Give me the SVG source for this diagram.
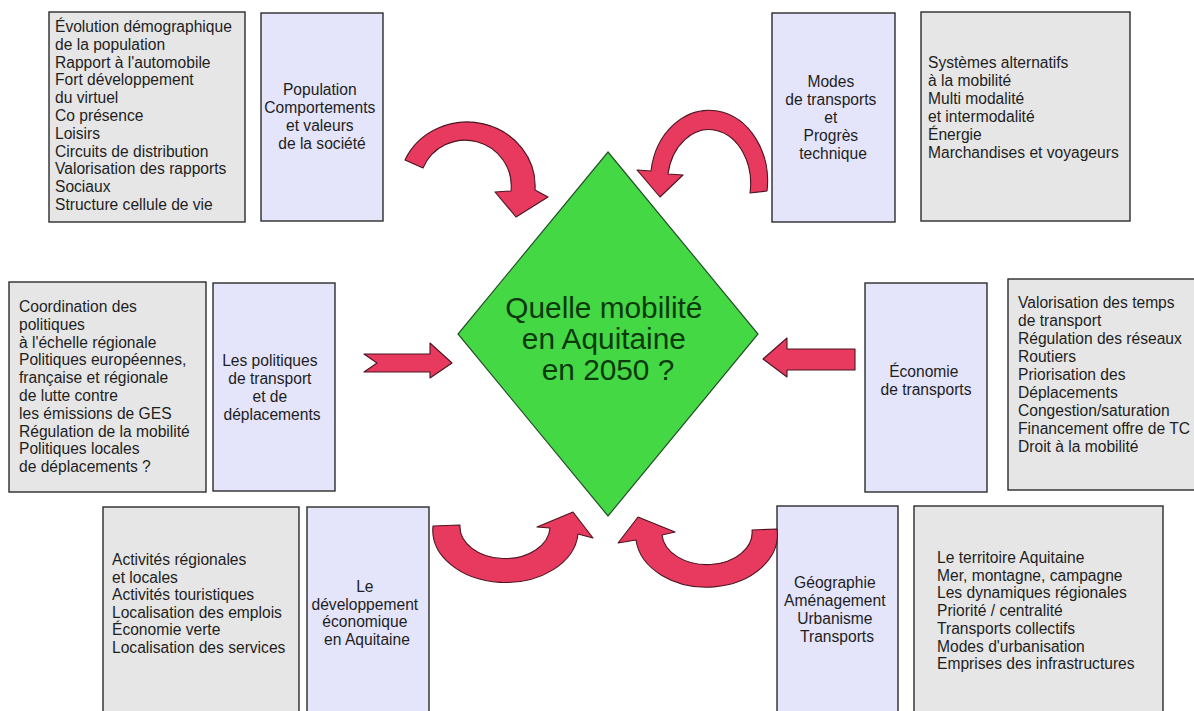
<svg xmlns="http://www.w3.org/2000/svg" width="1194" height="711" viewBox="0 0 1194 711">
  <style>
    .topic { fill: #e4e4fb; stroke: #2b2b2b; stroke-width: 1.4; }
    .detail { fill: #e6e6e6; stroke: #2b2b2b; stroke-width: 1.4; }
    .txt { font-family: "Liberation Sans", Arial, sans-serif; font-size: 15.6px; fill: #1e1e1e; }
    .mid { text-anchor: middle; }
    .arrow { fill: #e83a5e; stroke: #4a1420; stroke-width: 1.1; stroke-linejoin: round; }
    .hub { fill: #45d845; stroke: #24502a; stroke-width: 1.2; }
    .hubtxt { font-family: "Liberation Sans", Arial, sans-serif; font-size: 29.8px; fill: #0c3a0c; text-anchor: middle; }
  </style>
  <rect width="1194" height="711" fill="#ffffff"/>

  <!-- central question -->
  <g id="hub">
    <polygon class="hub" points="608,152 758,334 608,516 458,334"/>
    <text class="hubtxt">
      <tspan x="608" y="318">Quelle mobilité</tspan>
      <tspan x="608" y="349">en Aquitaine</tspan>
      <tspan x="608" y="380">en 2050 ?</tspan>
    </text>
  </g>

  <!-- top-left: population -->
  <g id="population-detail">
    <rect class="detail" x="49" y="12" width="196" height="210"/>
    <text class="txt">
      <tspan x="55" y="32">Évolution démographique</tspan>
      <tspan x="55" dy="17.8">de la population</tspan>
      <tspan x="55" dy="17.8">Rapport à l'automobile</tspan>
      <tspan x="55" dy="17.8">Fort développement</tspan>
      <tspan x="55" dy="17.8">du virtuel</tspan>
      <tspan x="55" dy="17.8">Co présence</tspan>
      <tspan x="55" dy="17.8">Loisirs</tspan>
      <tspan x="55" dy="17.8">Circuits de distribution</tspan>
      <tspan x="55" dy="17.8">Valorisation des rapports</tspan>
      <tspan x="55" dy="17.8">Sociaux</tspan>
      <tspan x="55" dy="17.8">Structure cellule de vie</tspan>
    </text>
  </g>
  <g id="population">
    <rect class="topic" x="261" y="13" width="122" height="208"/>
    <text class="txt mid">
      <tspan x="322" y="95">Population</tspan>
      <tspan x="322" dy="18">Comportements</tspan>
      <tspan x="322" dy="18">et valeurs</tspan>
      <tspan x="322" dy="18">de la société</tspan>
    </text>
  </g>

  <!-- top-right: transport modes -->
  <g id="modes">
    <rect class="topic" x="772" y="13" width="123" height="209"/>
    <text class="txt mid">
      <tspan x="833" y="87">Modes</tspan>
      <tspan x="833" dy="18">de transports</tspan>
      <tspan x="833" dy="18">et</tspan>
      <tspan x="833" dy="18">Progrès</tspan>
      <tspan x="833" dy="18">technique</tspan>
    </text>
  </g>
  <g id="modes-detail">
    <rect class="detail" x="921" y="12" width="209" height="209"/>
    <text class="txt">
      <tspan x="928" y="68">Systèmes alternatifs</tspan>
      <tspan x="928" dy="18">à la mobilité</tspan>
      <tspan x="928" dy="18">Multi modalité</tspan>
      <tspan x="928" dy="18">et intermodalité</tspan>
      <tspan x="928" dy="18">Énergie</tspan>
      <tspan x="928" dy="18">Marchandises et voyageurs</tspan>
    </text>
  </g>

  <!-- middle-left: policies -->
  <g id="policies-detail">
    <rect class="detail" x="9" y="282" width="197" height="210"/>
    <text class="txt">
      <tspan x="19" y="312">Coordination des</tspan>
      <tspan x="19" dy="17.8">politiques</tspan>
      <tspan x="19" dy="17.8">à l'échelle régionale</tspan>
      <tspan x="19" dy="17.8">Politiques européennes,</tspan>
      <tspan x="19" dy="17.8">française et régionale</tspan>
      <tspan x="19" dy="17.8">de lutte contre</tspan>
      <tspan x="19" dy="17.8">les émissions de GES</tspan>
      <tspan x="19" dy="17.8">Régulation de la mobilité</tspan>
      <tspan x="19" dy="17.8">Politiques locales</tspan>
      <tspan x="19" dy="17.8">de déplacements ?</tspan>
    </text>
  </g>
  <g id="policies">
    <rect class="topic" x="213" y="283" width="122" height="208"/>
    <text class="txt mid">
      <tspan x="272" y="366">Les politiques</tspan>
      <tspan x="272" dy="18">de transport</tspan>
      <tspan x="272" dy="18">et de</tspan>
      <tspan x="272" dy="18">déplacements</tspan>
    </text>
  </g>

  <!-- middle-right: transport economics -->
  <g id="economics">
    <rect class="topic" x="865" y="283" width="122" height="209"/>
    <text class="txt mid">
      <tspan x="926" y="377">Économie</tspan>
      <tspan x="926" dy="17.5">de transports</tspan>
    </text>
  </g>
  <g id="economics-detail">
    <rect class="detail" x="1008" y="279" width="200" height="211"/>
    <text class="txt">
      <tspan x="1018" y="308">Valorisation des temps</tspan>
      <tspan x="1018" dy="18">de transport</tspan>
      <tspan x="1018" dy="18">Régulation des réseaux</tspan>
      <tspan x="1018" dy="18">Routiers</tspan>
      <tspan x="1018" dy="18">Priorisation des</tspan>
      <tspan x="1018" dy="18">Déplacements</tspan>
      <tspan x="1018" dy="18">Congestion/saturation</tspan>
      <tspan x="1018" dy="18">Financement offre de TC</tspan>
      <tspan x="1018" dy="18">Droit à la mobilité</tspan>
    </text>
  </g>

  <!-- bottom-left: economic development -->
  <g id="development-detail">
    <rect class="detail" x="103" y="507" width="196" height="215"/>
    <text class="txt">
      <tspan x="112" y="565">Activités régionales</tspan>
      <tspan x="112" dy="17.6">et locales</tspan>
      <tspan x="112" dy="17.6">Activités touristiques</tspan>
      <tspan x="112" dy="17.6">Localisation des emplois</tspan>
      <tspan x="112" dy="17.6">Économie verte</tspan>
      <tspan x="112" dy="17.6">Localisation des services</tspan>
    </text>
  </g>
  <g id="development">
    <rect class="topic" x="307" y="507" width="122" height="215"/>
    <text class="txt mid">
      <tspan x="367" y="592">Le</tspan>
      <tspan x="367" dy="17.7">développement</tspan>
      <tspan x="367" dy="17.7">économique</tspan>
      <tspan x="367" dy="17.7">en Aquitaine</tspan>
    </text>
  </g>

  <!-- bottom-right: geography -->
  <g id="geography">
    <rect class="topic" x="777" y="506" width="121" height="215"/>
    <text class="txt mid">
      <tspan x="837" y="588">Géographie</tspan>
      <tspan x="837" dy="18">Aménagement</tspan>
      <tspan x="837" dy="18">Urbanisme</tspan>
      <tspan x="837" dy="18">Transports</tspan>
    </text>
  </g>
  <g id="geography-detail">
    <rect class="detail" x="914" y="506" width="249" height="215"/>
    <text class="txt">
      <tspan x="937" y="563">Le territoire Aquitaine</tspan>
      <tspan x="937" dy="17.7">Mer, montagne, campagne</tspan>
      <tspan x="937" dy="17.7">Les dynamiques régionales</tspan>
      <tspan x="937" dy="17.7">Priorité / centralité</tspan>
      <tspan x="937" dy="17.7">Transports collectifs</tspan>
      <tspan x="937" dy="17.7">Modes d'urbanisation</tspan>
      <tspan x="937" dy="17.7">Emprises des infrastructures</tspan>
    </text>
  </g>

  <!-- arrows pointing at the central question -->
  <g id="connectors">
    <path class="arrow" d="M405,160 A68,64 0 0 1 535,190 L548,197 L516,217 L495,192 L511,191 A46,46 0 0 0 423,168 Z"/>
    <path class="arrow" d="M767,191 A58,70 0 0 0 651,171 L637,170 L660,197 L683,175 L668,174 A41,53 0 0 1 750,193 Z"/>
    <path class="arrow" d="M364,354 L430,354 L430,343 L452,363 L430,378 L430,372 L364,372 L377,363 Z"/>
    <path class="arrow" d="M855,349 L787,349 L787,338 L763,359 L787,377 L787,370 L855,370 Z"/>
    <path class="arrow" d="M433,526 A72,52 0 0 0 578,534 L593,538 L573,512 L537,527 L550,528 A45,32 0 0 1 460,525 Z"/>
    <path class="arrow" d="M777,529 A70,52 0 0 1 636,540 L618,543 L638,517 L675,532 L662,535 A45,32 0 0 0 752,530 Z"/>
  </g>
</svg>
